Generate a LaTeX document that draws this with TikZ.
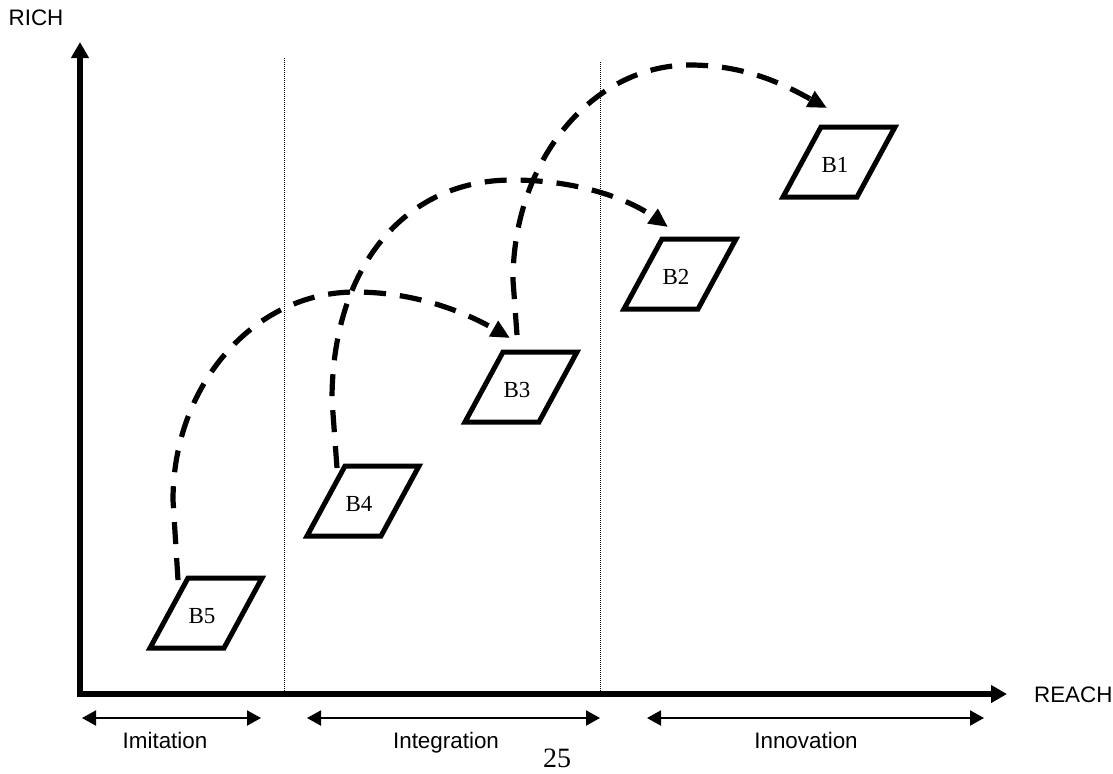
\documentclass[tikz,border=0pt]{standalone}
\usepackage{fontspec}
\setmainfont{Liberation Serif}
\setsansfont{Liberation Sans}
\usetikzlibrary{arrows.meta,calc}

\begin{document}
\begin{tikzpicture}[x = 0.5pt, y = -0.5pt,
	axis/.style = {line width = 2.75pt, {Triangle[length = 8pt, width = 8.5pt]}-{Triangle[length = 8pt, width = 8.5pt]}},
	box/.style = {line width = 2.5pt},
	hop/.style = {line width = 2.6pt, dash pattern = on 11pt off 7pt, -{Triangle[length = 9.5pt, width = 8.5pt]}},
	span/.style = {line width = 1pt, {Triangle[length = 7pt, width = 7.5pt]}-{Triangle[length = 7pt, width = 7.5pt]}},
	divider/.style = {line width = 0.5pt, dash pattern = on 0.5pt off 0.5pt},
	word/.style = {font = \sffamily\fontsize{11.2}{13}\selectfont},
	tag/.style = {font = \fontsize{11.5}{13}\selectfont}]
	\useasboundingbox (0, 0) rectangle (1113, 773);

	% stage borders
	\draw[divider] (284, 58) -- (284, 694);
	\draw[divider] (600, 62) -- (600, 694);

	% axes
	\draw[axis] (80, 42) -- (80, 694) -- (1007, 694);
	\node[word] (rich) at (36, 18) {RICH};
	\node[word, anchor = west] (reach) at (1027, 695) {REACH};

	% stages
	\draw[span] (82, 718) -- (261, 718);
	\draw[span] (307, 718) -- (600, 718);
	\draw[span] (647, 718) -- (984, 718);
	\node[word, anchor = base] (imitation) at (165, 748) {Imitation};
	\node[word, anchor = base] (integration) at (446, 748) {Integration};
	\node[word, anchor = base] (innovation) at (806, 748) {Innovation};
	\node[font = \fontsize{14}{16}\selectfont] (page) at (557, 758) {25};

	% businesses
	\foreach \n/\x/\y in {1/839/162, 2/680/274, 3/521/387, 4/363/501, 5/206/613} {
		\draw[box] (\x - 56, \y + 35) -- (\x + 18, \y + 35) -- (\x + 56, \y - 35) -- (\x - 18, \y - 35) -- cycle;
		\node[tag] (B\n) at (\x - 4, \y + 3) {B\n};
	}

	% moves
	\draw[hop] ($(B5) + (-24, -36)$) -- (173, 500) .. controls (173, 385) and (254, 292) .. (355, 292) .. controls (420, 292) and (470, 315) .. ($(B3) + (-7, -52)$);
	\draw[hop] ($(B4) + (-22, -36)$) -- (332, 400) .. controls (332, 268) and (404, 180) .. (512, 180) .. controls (580, 180) and (630, 200) .. ($(B2) + (-8, -50)$);
	\draw[hop] ($(B3) + (0, -55)$) -- (513, 280) .. controls (513, 161) and (592, 65) .. (690, 65) .. controls (750, 65) and (790, 88) .. ($(B1) + (-8, -57)$);
\end{tikzpicture}
\end{document}
